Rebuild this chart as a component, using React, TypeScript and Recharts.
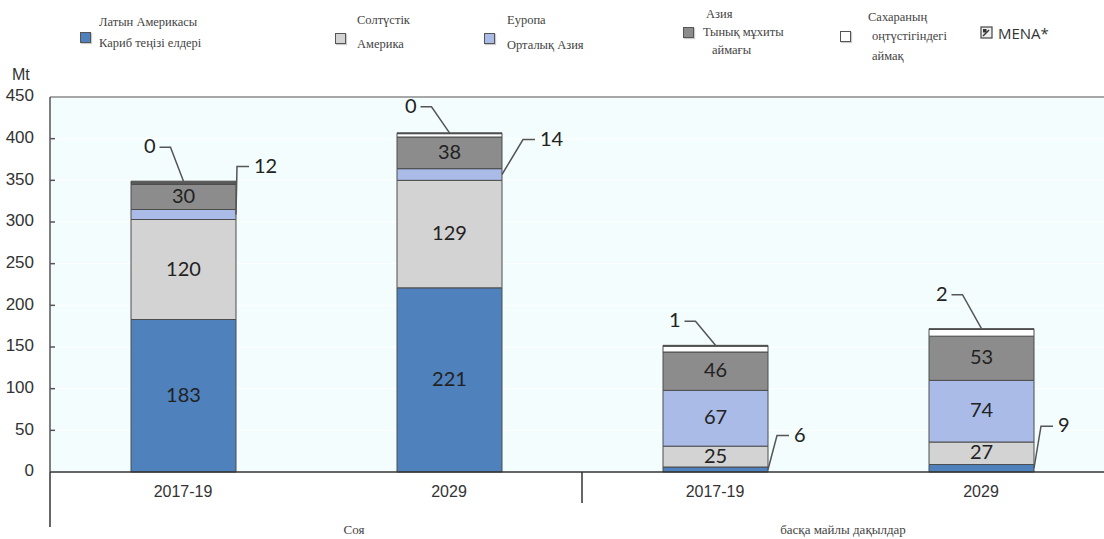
import React from 'react';
import { BarChart, Bar, XAxis, YAxis, CartesianGrid, ReferenceLine, LabelList } from 'recharts';

const categories = ['2017-19', '2029', '2017-19', '2029'];
const groupNames = ['Соя', 'басқа майлы дақылдар'];
const latinAmerica = [183, 221, 6, 9];
const northAmerica = [120, 129, 25, 27];
const europe = [12, 14, 67, 74];
const asiaPacific = [30, 38, 46, 53];
// thin top strips as drawn, and the value printed next to them
const subSaharan = [0, 4, 7, 8];
const subSaharanLabel = [0, 0, 1, 2];
const mena = [4, 1, 1, 1];
const yTicks = [0, 50, 100, 150, 200, 250, 300, 350, 400, 450];

const data = categories.map((c, i) => ({
  id: i,
  name: c,
  latinAmerica: latinAmerica[i],
  northAmerica: northAmerica[i],
  europe: europe[i],
  asiaPacific: asiaPacific[i],
  subSaharan: subSaharan[i],
  mena: mena[i],
}));

const CHART_W = 1114;
const CHART_H = 539;
const PLOT_LEFT = 50;
const PLOT_TOP = 97;
const PLOT_BOTTOM = 472;
const STEP = (CHART_W - PLOT_LEFT) / categories.length;

const EDGE = '#4d4d4d';
const LABEL_FONT = 'Lato, "Open Sans", sans-serif';
const AXIS_FONT = '"Liberation Sans Narrow", "Liberation Sans", Arial, sans-serif';
const SERIF = '"Liberation Serif", "DejaVu Serif", "Times New Roman", Times, serif';

// leader line offsets for the small callouts
const topCallout = [
  { dx: -13, dy: 34 },
  { dx: -18, dy: 26 },
  { dx: -20, dy: 24 },
  { dx: -19, dy: 34 },
];
const sideCallout = [
  { dx: 1, dy: 48 },
  { dx: 21, dy: 35 },
  { dx: 9, dy: 34 },
  { dx: 7, dy: 42 },
];

const insideLabel = (show: number[]) => (props: any) => {
  const { x, y, width, height, value, index } = props;
  if (!show.includes(index)) return null;
  return (
    <text
      x={x + width / 2}
      y={y + height / 2 + 1}
      textAnchor="middle"
      dominantBaseline="middle"
      fontFamily={LABEL_FONT}
      fontSize={20}
      fill="#222"
    >
      {value}
    </text>
  );
};

const sideLabel = (show: number[]) => (props: any) => {
  const { x, y, width, height, value, index } = props;
  if (!show.includes(index)) return null;
  const c = sideCallout[index];
  const ax = x + width;
  const ay = y + height / 2;
  const bx = ax + c.dx;
  const by = ay - c.dy;
  return (
    <g>
      <polyline points={`${ax},${ay} ${bx},${by} ${bx + 12},${by}`} fill="none" stroke="#555" strokeWidth={1.5} />
      <text x={bx + 17} y={by + 1} dominantBaseline="middle" fontFamily={LABEL_FONT} fontSize={20} fill="#222">
        {value}
      </text>
    </g>
  );
};

const topLabel = (props: any) => {
  const { x, y, width, index } = props;
  const c = topCallout[index];
  const ax = x + width / 2;
  const ay = y;
  const bx = ax + c.dx;
  const by = ay - c.dy;
  return (
    <g>
      <polyline points={`${ax},${ay} ${bx},${by} ${bx - 11},${by}`} fill="none" stroke="#555" strokeWidth={1.5} />
      <text x={bx - 15} y={by + 1} textAnchor="end" dominantBaseline="middle" fontFamily={LABEL_FONT} fontSize={20} fill="#222">
        {subSaharanLabel[index]}
      </text>
    </g>
  );
};

const groupShift = [38, -5];

const XTick = (props: any) => {
  const { x, payload } = props;
  const i = payload.index;
  return (
    <g>
      <text x={x} y={PLOT_BOTTOM + 21} textAnchor="middle" dominantBaseline="middle" fontFamily={AXIS_FONT} fontSize={16} fill="#333">
        {categories[i]}
      </text>
      {i === 0 && (
        <line x1={x - STEP / 2} x2={x - STEP / 2} y1={PLOT_BOTTOM} y2={PLOT_BOTTOM + 55} stroke="#333" strokeWidth={1.5} />
      )}
      {i === 2 && (
        <line x1={x - STEP / 2} x2={x - STEP / 2} y1={PLOT_BOTTOM} y2={PLOT_BOTTOM + 31} stroke="#333" strokeWidth={1.5} />
      )}
      {i % 2 === 0 && (
        <text
          x={x + STEP / 2 + groupShift[i / 2]}
          y={PLOT_BOTTOM + 59}
          textAnchor="middle"
          dominantBaseline="middle"
          fontFamily={SERIF}
          fontSize={13}
          fill="#444"
        >
          {groupNames[i / 2]}
        </text>
      )}
    </g>
  );
};

const YTick = (props: any) => {
  const { y, payload } = props;
  return (
    <g>
      {payload.value > 0 && payload.value < 450 && (
        <line x1={PLOT_LEFT} x2={PLOT_LEFT + 5} y1={y} y2={y} stroke="#555" strokeWidth={1.5} />
      )}
      <text x={PLOT_LEFT - 16} y={y} textAnchor="end" dominantBaseline="middle" fontFamily={AXIS_FONT} fontSize={17} fill="#333">
        {payload.value}
      </text>
    </g>
  );
};

const legendItems = [
  { color: '#4f81bd', box: [80, 32], lines: [['Латын Америкасы', 99, 22], ['Кариб теңізі елдері', 99, 43]] },
  { color: '#d3d3d3', box: [335, 33], lines: [['Солтүстік', 357, 20], ['Америка', 357, 44]] },
  { color: '#a9bbe6', box: [484, 33], lines: [['Еуропа', 507, 20], ['Орталық Азия', 507, 45]] },
  { color: '#8c8c8c', box: [683, 27], lines: [['Азия', 706, 14], ['Тынық мұхиты', 703, 32], ['аймағы', 712, 50]] },
  { color: '#ffffff', box: [840, 31], lines: [['Сахараның', 868, 17], ['оңтүстігіндегі', 872, 36], ['аймақ', 872, 56]] },
];

const Legend = () => (
  <>
    {legendItems.map((it, k) => (
      <React.Fragment key={k}>
        <div
          style={{
            position: 'absolute',
            left: it.box[0],
            top: it.box[1],
            width: 9,
            height: 9,
            background: it.color,
            border: '1.5px solid #555',
            boxShadow: '1px 1px 1px #ccc',
          }}
        />
        {it.lines.map(([t, lx, ly], j) => (
          <div
            key={j}
            style={{
              position: 'absolute',
              left: lx as number,
              top: (ly as number) - 8,
              fontFamily: SERIF,
              fontSize: 12.5,
              lineHeight: '16px',
              color: '#444',
              whiteSpace: 'nowrap',
            }}
          >
            {t}
          </div>
        ))}
      </React.Fragment>
    ))}
    <svg style={{ position: 'absolute', left: 980, top: 26 }} width={14} height={14}>
      <rect x={1} y={1} width={11} height={11} fill="#eee" stroke="#444" strokeWidth={1.2} />
      <line x1={3} y1={10} x2={9} y2={4} stroke="#333" strokeWidth={1.5} />
      <rect x={3} y={3} width={3.5} height={3.5} fill="#333" />
    </svg>
    <div
      style={{
        position: 'absolute',
        left: 998,
        top: 23,
        fontFamily: '"Open Sans", "Noto Sans", sans-serif',
        fontSize: 15,
        lineHeight: '20px',
        color: '#333',
      }}
    >
      MENA*
    </div>
    <div
      style={{
        position: 'absolute',
        left: 12,
        top: 66,
        fontFamily: AXIS_FONT,
        fontSize: 16,
        lineHeight: '18px',
        color: '#333',
      }}
    >
      Mt
    </div>
  </>
);

const App: React.FC = () => {
  return (
    <div
      style={{
        position: 'absolute',
        left: 0,
        top: 0,
        width: 1104,
        height: 539,
        overflow: 'hidden',
        background: '#ffffff',
      }}
    >
      <BarChart
        width={CHART_W}
        height={CHART_H}
        data={data}
        barSize={105}
        margin={{ top: PLOT_TOP, right: 0, left: 0, bottom: 37 }}
      >
        <CartesianGrid fill="#f3fdfd" stroke="#ffffff" vertical={false} />
        <XAxis
          dataKey="id"
          height={30}
          axisLine={{ stroke: '#333', strokeWidth: 1.5 }}
          tickLine={false}
          tick={<XTick />}
          interval={0}
        />
        <YAxis
          width={PLOT_LEFT}
          domain={[0, 450]}
          ticks={yTicks}
          interval={0}
          axisLine={{ stroke: '#555', strokeWidth: 1.5 }}
          tickLine={false}
          tick={<YTick />}
        />
        <ReferenceLine y={450} stroke="#8a8a8a" strokeWidth={1.5} />
        <Bar dataKey="latinAmerica" stackId="a" fill="#4f81bd" stroke={EDGE} strokeWidth={1} isAnimationActive={false}>
          <LabelList dataKey="latinAmerica" content={insideLabel([0, 1])} />
          <LabelList dataKey="latinAmerica" content={sideLabel([2, 3])} />
        </Bar>
        <Bar dataKey="northAmerica" stackId="a" fill="#d3d3d3" stroke={EDGE} strokeWidth={1} isAnimationActive={false}>
          <LabelList dataKey="northAmerica" content={insideLabel([0, 1, 2, 3])} />
        </Bar>
        <Bar dataKey="europe" stackId="a" fill="#a9bbe6" stroke={EDGE} strokeWidth={1} isAnimationActive={false}>
          <LabelList dataKey="europe" content={insideLabel([2, 3])} />
          <LabelList dataKey="europe" content={sideLabel([0, 1])} />
        </Bar>
        <Bar dataKey="asiaPacific" stackId="a" fill="#8c8c8c" stroke={EDGE} strokeWidth={1} isAnimationActive={false}>
          <LabelList dataKey="asiaPacific" content={insideLabel([0, 1, 2, 3])} />
        </Bar>
        <Bar dataKey="subSaharan" stackId="a" fill="#ffffff" stroke={EDGE} strokeWidth={1} isAnimationActive={false} />
        <Bar dataKey="mena" stackId="a" fill="#595959" stroke={EDGE} strokeWidth={1} isAnimationActive={false}>
          <LabelList dataKey="mena" content={topLabel} />
        </Bar>
      </BarChart>
      <Legend />
    </div>
  );
};

export default App;
